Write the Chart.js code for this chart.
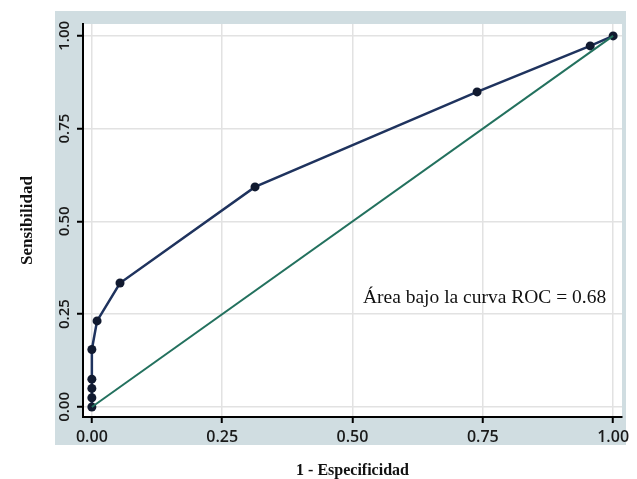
<!DOCTYPE html>
<html>
<head>
<meta charset="utf-8">
<script src="https://cdn.jsdelivr.net/npm/chart.js@4.4.1/dist/chart.umd.min.js"></script>
<style>
  html, body { margin: 0; padding: 0; background: #fff; }
  #wrap { width: 637px; height: 479px; }
</style>
</head>
<body>
<div id="wrap"><canvas id="rocChart" width="637" height="479"></canvas></div>
<script>
// curva ROC (1 - especificidad, sensibilidad)
const rocX = [0, 0, 0, 0, 0, 0.01, 0.054, 0.313, 0.739, 0.956, 1];
const rocY = [0, 0.025, 0.05, 0.075, 0.155, 0.232, 0.334, 0.593, 0.849, 0.973, 1];
// linea de referencia
const refX = [0, 1];
const refY = [0, 1];
const tickVals = [0, 0.25, 0.5, 0.75, 1];
const areaLabel = 'Área bajo la curva ROC = 0.68';

const toPts = (xs, ys) => xs.map((x, i) => ({ x: x, y: ys[i] }));

// fondo gris-azulado + area blanca del grafico
const fondo = {
  id: 'fondo',
  beforeDraw(chart) {
    const { ctx, chartArea: { left, top, right, bottom } } = chart;
    ctx.save();
    ctx.fillStyle = '#fff';
    ctx.fillRect(0, 0, chart.width, chart.height);
    ctx.fillStyle = '#d0dde1';
    ctx.fillRect(left - 28, top - 13, (right + 4) - (left - 28), (bottom + 28) - (top - 13));
    ctx.fillStyle = '#fff';
    ctx.fillRect(left, top, right - left, bottom - top);
    ctx.restore();
  }
};

// texto del area
const textoArea = {
  id: 'textoArea',
  afterDatasetsDraw(chart) {
    const { ctx, scales: { x, y } } = chart;
    ctx.save();
    ctx.font = '19.5px "Liberation Serif", serif';
    ctx.fillStyle = '#111';
    ctx.textBaseline = 'middle';
    ctx.fillText(areaLabel, x.getPixelForValue(0.52), y.getPixelForValue(0.295));
    ctx.restore();
  }
};

const config = {
  type: 'line',
  data: {
    datasets: [
      {
        data: toPts(refX, refY),
        borderColor: '#23715e',
        borderWidth: 2,
        pointRadius: 0,
        tension: 0
      },
      {
        data: toPts(rocX, rocY),
        borderColor: '#1f335e',
        backgroundColor: '#111a30',
        borderWidth: 2.5,
        pointRadius: 4.5,
        pointBorderWidth: 0,
        tension: 0
      }
    ]
  },
  options: {
    responsive: false,
    animation: false,
    layout: { padding: { left: 0, right: 15, top: 24, bottom: 0 } },
    plugins: { legend: { display: false }, tooltip: { enabled: false } },
    scales: {
      x: {
        type: 'linear',
        min: -0.017,
        max: 1.017,
        afterBuildTicks: (s) => { s.ticks = tickVals.map(v => ({ value: v })); },
        afterFit: (s) => { s.height = 62; },
        ticks: {
          callback: (v) => v.toFixed(2),
          color: '#1a1a1a',
          font: { family: '"Open Sans", sans-serif', size: 16, weight: '600' },
          padding: 5,
          maxRotation: 0
        },
        grid: { color: '#e2e2e2', lineWidth: 1.5, tickColor: '#000', tickLength: 6, tickWidth: 2 },
        border: { color: '#000', width: 2 },
        title: {
          display: true,
          text: '1 - Especificidad',
          color: '#111',
          font: { family: '"Liberation Serif", serif', size: 16, weight: 'bold' },
          padding: { top: 0, bottom: -1 }
        }
      },
      y: {
        type: 'linear',
        min: -0.027,
        max: 1.032,
        afterBuildTicks: (s) => { s.ticks = tickVals.map(v => ({ value: v })); },
        afterFit: (s) => { s.width = 83; },
        ticks: {
          callback: (v) => v.toFixed(2),
          color: '#1a1a1a',
          font: { family: '"Open Sans", sans-serif', size: 15, weight: '600' },
          padding: 12,
          minRotation: 90,
          maxRotation: 90,
          labelOffset: -15
        },
        grid: { color: '#e2e2e2', lineWidth: 1.5, tickColor: '#000', tickLength: 6, tickWidth: 2 },
        border: { color: '#000', width: 2 },
        title: {
          display: true,
          text: 'Sensibilidad',
          color: '#111',
          font: { family: '"Liberation Serif", serif', size: 17, weight: 'bold' },
          padding: { top: 17, bottom: 0 }
        }
      }
    }
  },
  plugins: [fondo, textoArea]
};

const grafico = new Chart(document.getElementById('rocChart'), config);
</script>
</body>
</html>
